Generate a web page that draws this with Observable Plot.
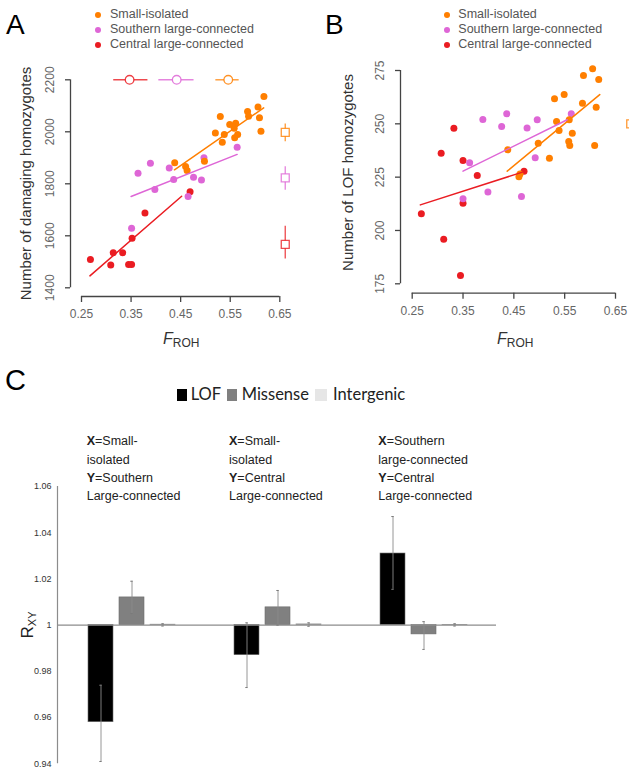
<!DOCTYPE html>
<html><head><meta charset="utf-8">
<script src="https://cdn.jsdelivr.net/npm/d3@7"></script>
<script src="https://cdn.jsdelivr.net/npm/@observablehq/plot@0.6"></script>
<style>
body{margin:0;background:#fff;}
#root{position:relative;width:629px;height:771px;overflow:hidden;font-family:"Liberation Sans",Arial,Helvetica,sans-serif;background:#fff;}
.abs{position:absolute;white-space:nowrap;}
.letter{line-height:1;color:#000;}
.leg{font-size:12.5px;line-height:15px;color:#555;}
.froh{font-size:16px;line-height:16px;color:#333;}
.froh i{font-style:italic;}
.froh span{font-size:12px;position:relative;top:3px;}
.cleg{font-family:Lato,"Open Sans",sans-serif;font-size:16.5px;line-height:20px;color:#222;}
.ann{font-size:12.5px;line-height:18.2px;color:#222;}
</style></head>
<body><div id="root"></div>
<script>
const FONT = "'Liberation Sans', Arial, Helvetica, sans-serif";
const groupNames = ["Small-isolated", "Southern large-connected", "Central large-connected"];
const groupColors = ["#ff7f00", "#de66d6", "#ea1c22"];

// ---------- Panel A : damaging homozygotes ----------
const aXTicks = [0.25, 0.35, 0.45, 0.55, 0.65];
const aYTicks = [1400, 1600, 1800, 2000, 2200];
const aSmallF = [0.618,0.606,0.585,0.587,0.609,0.530,0.549,0.561,0.558,0.520,0.538,0.565,0.559,0.534,0.612,0.438,0.460,0.463,0.498];
const aSmallV = [2136,2095,2078,2060,2054,2059,2028,2033,2014,1995,1990,1990,1977,1960,2002,1881,1867,1851,1887];
const aSouthF = [0.389,0.427,0.564,0.497,0.364,0.436,0.398,0.476,0.492,0.465,0.351];
const aSouthV = [1879,1861,1941,1900,1841,1817,1778,1825,1815,1751,1629];
const aCentralF = [0.268,0.309,0.314,0.333,0.345,0.351,0.352,0.378,0.469];
const aCentralV = [1509,1488,1535,1535,1490,1490,1591,1688,1769];
const aFitF = [[0.4375,0.6175],[0.350,0.564],[0.267,0.452]];
const aFitV = [[1854,2092],[1751,1913],[1446,1752]];
const aMeanF = [0.546,0.442,0.347], aMeanLo = [0.521,0.406,0.315], aMeanHi = [0.568,0.477,0.384], aMeanV = [2200,2200,2200];
const aBoxF = [0.661,0.661,0.661], aBoxV = [1998,1823,1567], aBoxLo = [1962,1775,1511], aBoxHi = [2030,1866,1637];

// ---------- Panel B : LOF homozygotes ----------
const bXTicks = [0.25, 0.35, 0.45, 0.55, 0.65];
const bYTicks = [175, 200, 225, 250, 275];
const bSmallF = [0.605,0.587,0.617,0.530,0.549,0.585,0.612,0.534,0.559,0.539,0.565,0.558,0.560,0.609,0.498,0.438,0.520,0.460,0.462];
const bSmallV = [275.8,272.7,270.8,261.7,263.7,259.7,257.8,251.1,251.9,246.9,245.6,241.7,239.8,239.8,240.9,237.8,233.9,225.2,226.5];
const bSouthF = [0.389,0.436,0.426,0.476,0.496,0.563,0.363,0.492,0.399,0.350,0.465];
const bSouthV = [252.0,254.7,248.7,248.0,251.9,254.7,231.7,234.1,218.0,214.9,215.9];
const bCentralF = [0.332,0.307,0.350,0.378,0.470,0.350,0.268,0.312,0.345];
const bCentralV = [247.9,236.2,232.8,225.8,227.8,212.8,207.8,195.9,178.9];
const bFitF = [[0.437,0.619],[0.350,0.555],[0.266,0.470]];
const bFitV = [[227.8,263.7],[227.8,251.9],[212.0,227.6]];
const bBoxF = [0.68], bBoxV = [250], bBoxLo = [247], bBoxHi = [253];

// ---------- Panel C : R_XY ----------
const cGroups = ["X=Small-isolated / Y=Southern Large-connected", "X=Small-isolated / Y=Central Large-connected", "X=Southern large-connected / Y=Central Large-connected"];
const cTypes = ["LOF", "Missense", "Intergenic"];
const cColors = ["#000000", "#808080", "#e6e6e6"];
const cLOF = [0.958, 0.987, 1.031], cLOFLo = [0.941, 0.973, 1.0155], cLOFHi = [0.974, 1.001, 1.047];
const cMis = [1.012, 1.0077, 0.996], cMisLo = [1.005, 1.0, 0.9895], cMisHi = [1.019, 1.015, 1.0015];
const cInt = [1.0002, 1.0003, 1.0001], cIntLo = [0.9996, 0.9995, 0.9996], cIntHi = [1.0006, 1.001, 1.0006];
const cYTicks = [0.94, 0.96, 0.98, 1, 1.02, 1.04, 1.06];
const cBase = 1;

const root = document.getElementById("root");
function place(node, left, top) {
  const d = document.createElement("div");
  d.className = "abs";
  d.style.left = left + "px"; d.style.top = top + "px";
  d.appendChild(node);
  root.appendChild(d);
  return d;
}
function html(str, cls, left, top, extra) {
  const d = document.createElement("div");
  d.className = "abs " + (cls || "");
  d.style.left = left + "px"; d.style.top = top + "px";
  if (extra) Object.assign(d.style, extra);
  d.innerHTML = str;
  root.appendChild(d);
  return d;
}

function rows(fs, vs) {
  return [2, 1, 0].flatMap(i => fs[i].map((f, j) => ({g: groupNames[i], f, v: vs[i][j]})));
}
function fitRows(fs, vs) {
  return fs.flatMap((pair, i) => pair.map((f, j) => ({g: groupNames[i], f, v: vs[i][j]})));
}

function scatter(cfg) {
  const pts = rows(cfg.F, cfg.V);
  const fits = fitRows(cfg.fitF, cfg.fitV);
  const marks = [
    Plot.ruleX([cfg.xTicks[0]], {y1: cfg.yTicks[0], y2: cfg.yTicks.at(-1), dx: cfg.axDx, stroke: "#444", strokeWidth: 1.3}),
    Plot.ruleY([cfg.yTicks[0]], {x1: cfg.xTicks[0], x2: cfg.xTicks.at(-1), dy: cfg.axDy, stroke: "#444", strokeWidth: 1.3}),
    Plot.axisX({ticks: cfg.xTicks, tickSize: 6, tickPadding: 7, tickFormat: d3.format(".2f"), fontSize: 12, stroke: "#444", strokeWidth: 1.3, fill: "#666", label: null}),
    Plot.axisY({ticks: cfg.yTicks, tickSize: 5, tickFormat: () => "", stroke: "#444", strokeWidth: 1.3, label: null}),
    Plot.text(cfg.yTicks, {x: () => cfg.xTicks[0], y: d => d, text: d => String(d), rotate: -90, dx: cfg.axDx - 20,
      textAnchor: "middle", lineAnchor: "middle", fontSize: 12, fill: "#666"}),
    Plot.text([cfg.title], {text: d => d, frameAnchor: "left", textAnchor: "middle", rotate: -90, dx: cfg.titleDx, fontSize: 15, fill: "#333"})
  ];
  if (cfg.means) {
    marks.push(Plot.ruleY(cfg.means, {y: "v", x1: "lo", x2: "hi", stroke: "g", strokeWidth: 1.4, strokeOpacity: 0.8}));
    marks.push(Plot.dot(cfg.means, {x: "f", y: "v", r: 4.3, stroke: "g", fill: "white", strokeWidth: 1.3, strokeOpacity: 0.85}));
  }
  if (cfg.boxes) {
    marks.push(Plot.ruleX(cfg.boxes, {x: "f", y1: "lo", y2: "hi", stroke: "g", strokeWidth: 1.4, strokeOpacity: 0.75}));
    marks.push(Plot.dot(cfg.boxes, {x: "f", y: "v", r: 4.5, symbol: "square", stroke: "g", fill: "white", strokeWidth: 1.3, strokeOpacity: 0.8}));
  }
  marks.push(Plot.dot(pts, {x: "f", y: "v", fill: "g", r: 3.5}));
  marks.push(Plot.line(fits, {x: "f", y: "v", z: "g", stroke: "g", strokeWidth: 1.5}));
  return Plot.plot({
    width: cfg.width, height: 360,
    marginLeft: cfg.ml, marginRight: 0, marginTop: cfg.mt, marginBottom: cfg.mb,
    x: {domain: [cfg.xTicks[0], cfg.xTicks.at(-1)], range: cfg.xRange},
    y: {domain: [cfg.yTicks[0], cfg.yTicks.at(-1)], range: cfg.yRange},
    color: {domain: groupNames, range: groupColors},
    style: {background: "transparent", fontFamily: FONT, overflow: "visible"},
    marks
  });
}

const aMeans = aMeanF.map((f, i) => ({g: groupNames[i], f, v: aMeanV[i], lo: aMeanLo[i], hi: aMeanHi[i]}));
const aBoxes = aBoxF.map((f, i) => ({g: groupNames[i], f, v: aBoxV[i], lo: aBoxLo[i], hi: aBoxHi[i]}));
const bBoxes = bBoxF.map((f, i) => ({g: groupNames[i], f, v: bBoxV[i], lo: bBoxLo[i], hi: bBoxHi[i]}));

const plotA = scatter({
  width: 320, ml: 70, mt: 70, mb: 64, xRange: [81, 279.3], yRange: [287.3, 79.3], axDx: -11, axDy: 8.7,
  xTicks: aXTicks, yTicks: aYTicks, F: [aSmallF, aSouthF, aCentralF], V: [aSmallV, aSouthV, aCentralV],
  fitF: aFitF, fitV: aFitV, title: "Number of damaging homozygotes", titleDx: -44, means: aMeans, boxes: aBoxes
});
place(plotA, 0, 0);

const plotB = scatter({
  width: 309, ml: 80, mt: 51.3, mb: 67.3, xRange: [91.7, 295], yRange: [283.3, 70], axDx: -11.7, axDy: 9.4,
  xTicks: bXTicks, yTicks: bYTicks, F: [bSmallF, bSouthF, bCentralF], V: [bSmallV, bSouthV, bCentralV],
  fitF: bFitF, fitV: bFitV, title: "Number of LOF homozygotes", titleDx: -52, boxes: bBoxes
});
place(plotB, 320, 0);

// Panel C
const cRows = cGroups.flatMap((g, i) => [
  {group: g, type: cTypes[0], value: cLOF[i], lo: cLOFLo[i], hi: cLOFHi[i]},
  {group: g, type: cTypes[1], value: cMis[i], lo: cMisLo[i], hi: cMisHi[i]},
  {group: g, type: cTypes[2], value: cInt[i], lo: cIntLo[i], hi: cIntHi[i]}
]);
const plotC = Plot.plot({
  width: 629, height: 300, marginLeft: 57, marginRight: 133, marginTop: 16, marginBottom: 6.7,
  fx: {domain: cGroups, padding: 0, axis: null},
  x: {domain: cTypes, paddingInner: 0.2, paddingOuter: 0.886, axis: null},
  y: {domain: [cYTicks[0], cYTicks.at(-1)], axis: null},
  color: {domain: cTypes, range: cColors},
  style: {background: "transparent", fontFamily: FONT, overflow: "visible"},
  marks: [
    Plot.barY(cRows, {fx: "group", x: "type", y1: () => cBase, y2: "value", fill: "type", stroke: "#6b6b6b", strokeWidth: 0.6}),
    Plot.ruleY([cBase], {stroke: "#8c8c8c", strokeWidth: 1.3}),
    Plot.ruleX(cRows, {fx: "group", x: "type", y1: "lo", y2: "hi", stroke: "#8a8a8a", strokeWidth: 0.9}),
    Plot.tickY(cRows, {fx: "group", x: "type", y: "lo", insetLeft: 11.3, insetRight: 11.3, stroke: "#7a7a7a", strokeWidth: 1}),
    Plot.tickY(cRows, {fx: "group", x: "type", y: "hi", insetLeft: 11.3, insetRight: 11.3, stroke: "#7a7a7a", strokeWidth: 1})
  ]
});
place(plotC, 0, 470);

const plotCAxis = Plot.plot({
  width: 629, height: 300, marginLeft: 57, marginRight: 133, marginTop: 16, marginBottom: 6.7,
  x: {domain: [0, 1], axis: null},
  y: {domain: [cYTicks[0], cYTicks.at(-1)]},
  style: {background: "transparent", fontFamily: FONT, overflow: "visible"},
  marks: [
    Plot.ruleX([0], {y1: cYTicks[0], y2: cYTicks.at(-1), stroke: "#8c8c8c", strokeWidth: 1.2}),
    Plot.axisY({ticks: cYTicks, tickSize: 0, tickPadding: 6, fontSize: 9, fill: "#333", tickFormat: d => String(+d.toFixed(2)), label: null})
  ]
});
place(plotCAxis, 0, 470);

// ---------- HTML text ----------
html("A", "letter", 6, 11.3, {fontSize: "28px"});
html("B", "letter", 325, 11.3, {fontSize: "28px"});
html("C", "letter", 5, 366, {fontSize: "29px"});

function legend(dotX, textX) {
  groupNames.forEach((name, i) => {
    const top = 7.2 + i * 15;
    html("", "", dotX - 3, top + 4.3, {width: "6px", height: "6px", borderRadius: "50%", background: groupColors[i]});
    html(name, "leg", textX, top);
  });
}
legend(98, 110);
legend(446.7, 458.3);

html("<i>F</i><span>ROH</span>", "froh", 163, 330.5);
html("<i>F</i><span>ROH</span>", "froh", 497, 330.5);

// C legend
const cLegLeft = [176.7, 226.7, 315];
const cLegText = [190.7, 241.7, 333];
cTypes.forEach((t, i) => {
  html("", "", cLegLeft[i], 389.2, {width: (i === 2 ? 12 : 10.5) + "px", height: "11.5px", background: cColors[i]});
  html(t, "cleg", cLegText[i], 384);
});

// C annotations
const annX = [86.7, 229, 378.3];
const annText = [
  "<b>X</b>=Small-<br>isolated<br><b>Y</b>=Southern<br>Large-connected",
  "<b>X</b>=Small-<br>isolated<br><b>Y</b>=Central<br>Large-connected",
  "<b>X</b>=Southern<br>large-connected<br><b>Y</b>=Central<br>Large-connected"
];
annText.forEach((t, i) => html(t, "ann", annX[i], 432.3));

// R_XY label
html("R<sub style='font-size:11px;vertical-align:-3px'>XY</sub>", "", 30, 625,
  {fontSize: "17px", lineHeight: "20px", color: "#222", transform: "translate(-50%,-50%) rotate(-90deg)"});
</script>
</body></html>
